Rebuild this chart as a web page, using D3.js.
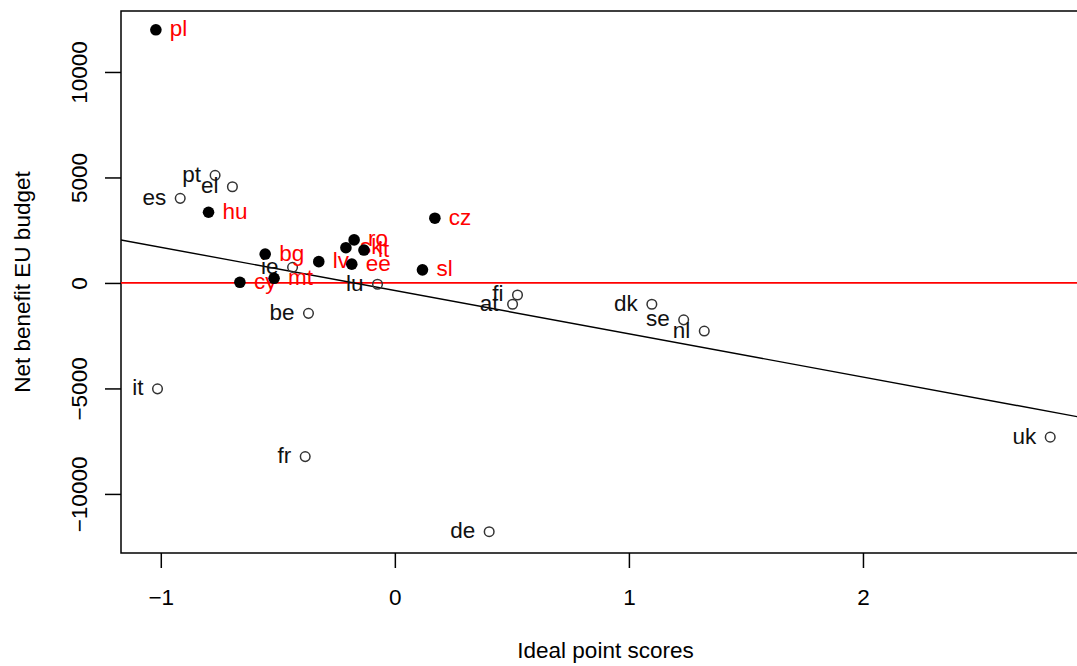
<!DOCTYPE html>
<html>
<head>
<meta charset="utf-8">
<script src="https://cdn.jsdelivr.net/npm/d3@7"></script>
<style>
  html, body { margin: 0; padding: 0; background: #fff; }
  svg { display: block; }
  text { font-family: "Liberation Sans", Arial, Helvetica, sans-serif; }
</style>
</head>
<body>
<svg id="chart" width="1077" height="666"></svg>
<script>
// ---- data ----
const countries = ["pl","pt","el","es","hu","bg","ie","cy","mt","be","lv","ro","sk","lt","ee","lu","cz","sl","fi","at","dk","se","nl","uk","it","fr","de"];
const idealPoints = [-1.021,-0.768,-0.694,-0.917,-0.796,-0.554,-0.437,-0.662,-0.516,-0.369,-0.325,-0.174,-0.209,-0.132,-0.184,-0.074,0.171,0.118,0.524,0.503,1.098,1.234,1.322,2.800,-1.014,-0.383,0.403];
const netBenefit = [12000,5100,4560,4010,3350,1370,740,30,220,-1440,1010,2040,1670,1560,890,-60,3070,620,-570,-1010,-1010,-1750,-2280,-7310,-5020,-8230,-11790];
const newMember = [1,0,0,0,1,1,0,1,1,0,1,1,1,1,1,0,1,1,0,0,0,0,0,0,0,0,0];
const xTicks = [-1,0,1,2];
const yTicks = [-10000,-5000,0,5000,10000];
const regIntercept = -360;
const regSlope = -2050;
const xTitle = "Ideal point scores";
const yTitle = "Net benefit EU budget";

(function(){
const data = countries.map((c,i)=>({c, x: idealPoints[i], y: netBenefit[i], filled: newMember[i]===1}));

// ---- layout ----
const pL = 121, pR = 1090, pT = 11, pB = 553;
const svg = d3.select("#chart");
const x = d3.scaleLinear().domain([-1.17, 2.97]).range([pL, pR]);
const y = d3.scaleLinear().domain([-12800, 12890]).range([pB, pT]);
const fs = 22.5;
const minus = v => String(v).replace("-", "\u2212");

svg.append("defs").append("clipPath").attr("id","plotclip")
  .append("rect").attr("x",pL).attr("y",pT).attr("width",pR-pL).attr("height",pB-pT);

// frame
svg.append("rect").attr("x",pL).attr("y",pT).attr("width",pR-pL).attr("height",pB-pT)
  .attr("fill","none").attr("stroke","#000").attr("stroke-width",1.5);

// x axis
const xAxis = d3.axisBottom(x).tickValues(xTicks).tickSize(15).tickPadding(0).tickFormat(minus);
const gx = svg.append("g").attr("transform",`translate(0,${pB})`).call(xAxis);
gx.select(".domain").remove();
gx.selectAll(".tick line").attr("stroke","#000").attr("stroke-width",1.5);
gx.selectAll(".tick text").attr("font-size",fs).attr("fill","#000")
  .attr("y",604.5-pB).attr("dy",0);

// y axis
const yAxis = d3.axisLeft(y).tickValues(yTicks).tickSize(16).tickPadding(0).tickFormat(minus);
const gy = svg.append("g").attr("transform",`translate(${pL},0)`).call(yAxis);
gy.select(".domain").remove();
gy.selectAll(".tick line").attr("stroke","#000").attr("stroke-width",1.5);
gy.selectAll(".tick text").attr("font-size",fs).attr("fill","#000")
  .attr("x",null).attr("dy",null)
  .attr("text-anchor","middle")
  .attr("transform",`translate(${87-pL},0) rotate(-90)`);

// titles
svg.append("text").attr("x",(pL+pR)/2).attr("y",658).attr("text-anchor","middle")
  .attr("font-size",fs).attr("fill","#000").text(xTitle);
svg.append("text").attr("transform",`translate(30,${(pT+pB)/2}) rotate(-90)`)
  .attr("text-anchor","middle").attr("font-size",fs).attr("fill","#000").text(yTitle);

const plot = svg.append("g").attr("clip-path","url(#plotclip)");

// zero line
plot.append("line").attr("x1",pL).attr("x2",pR).attr("y1",y(0)).attr("y2",y(0))
  .attr("stroke","#ff0000").attr("stroke-width",1.8);

// regression line
const xd = x.domain();
plot.append("line")
  .attr("x1",x(xd[0])).attr("y1",y(regIntercept+regSlope*xd[0]))
  .attr("x2",x(xd[1])).attr("y2",y(regIntercept+regSlope*xd[1]))
  .attr("stroke","#000").attr("stroke-width",1.4);

// open points
svg.append("g").selectAll("circle").data(data.filter(d=>!d.filled)).join("circle")
  .attr("cx",d=>x(d.x)).attr("cy",d=>y(d.y)).attr("r",4.8)
  .attr("fill","none").attr("stroke","#333").attr("stroke-width",1.5);

// labels
svg.append("g").selectAll("text").data(data).join("text")
  .attr("x",d=>d.filled ? x(d.x)+14 : x(d.x)-14)
  .attr("y",d=>y(d.y)+6.5)
  .attr("text-anchor",d=>d.filled ? "start" : "end")
  .attr("font-size",fs)
  .attr("fill",d=>d.filled ? "#ff0000" : "#111")
  .text(d=>d.c);

// filled points
svg.append("g").selectAll("circle").data(data.filter(d=>d.filled)).join("circle")
  .attr("cx",d=>x(d.x)).attr("cy",d=>y(d.y)).attr("r",5.8)
  .attr("fill","#000");
})();
</script>
</body>
</html>
